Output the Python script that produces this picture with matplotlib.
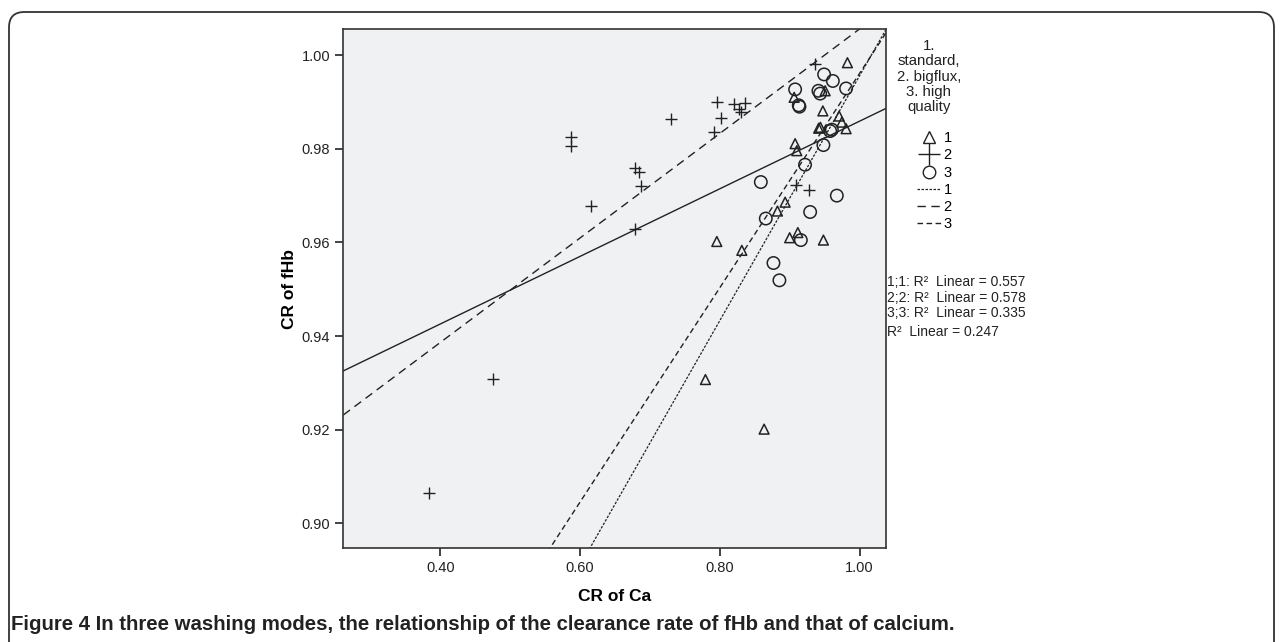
import numpy as np
import matplotlib
matplotlib.use('Agg')
import matplotlib.pyplot as plt
from matplotlib.lines import Line2D
from matplotlib.patches import FancyBboxPatch

plt.rcParams['font.family'] = ['Liberation Sans', 'DejaVu Sans']

# group 1: standard (triangles)
ca_1 = [0.9827, 0.9508, 0.9064, 0.9475, 0.9708, 0.9747, 0.9415, 0.9440, 0.9808,
        0.9078, 0.9102, 0.8935, 0.8825, 0.7957, 0.8315, 0.9000, 0.9117, 0.9483,
        0.7794, 0.8634]
hb_1 = [0.9984, 0.9924, 0.9910, 0.9881, 0.9870, 0.9857, 0.9844, 0.9846, 0.9843,
        0.9811, 0.9796, 0.9686, 0.9667, 0.9602, 0.9583, 0.9610, 0.9621, 0.9605,
        0.9307, 0.9201]

# group 2: bigflux (plus)
ca_2 = [0.587, 0.587, 0.7957, 0.821, 0.836, 0.827, 0.830, 0.8023, 0.7918, 0.730,
        0.679, 0.684, 0.6878, 0.6153, 0.6788, 0.9365, 0.909, 0.928, 0.476, 0.384]
hb_2 = [0.9825, 0.9806, 0.9900, 0.9895, 0.9898, 0.9885, 0.9878, 0.9865, 0.9837, 0.9863,
        0.9759, 0.9751, 0.9720, 0.9678, 0.9629, 0.9981, 0.9722, 0.9712, 0.9308, 0.9065]

# group 3: high quality (circles)
ca_3 = [0.9493, 0.9618, 0.9078, 0.9412, 0.9436, 0.9808, 0.913, 0.914, 0.9604, 0.958,
        0.9483, 0.922, 0.9675, 0.9293, 0.8587, 0.8658, 0.916, 0.8768, 0.8853]
hb_3 = [0.9959, 0.9945, 0.9927, 0.9924, 0.9918, 0.9929, 0.9893, 0.9890, 0.9841, 0.9838,
        0.9808, 0.9766, 0.9700, 0.9665, 0.9729, 0.9651, 0.9605, 0.9556, 0.9519]

# fit lines (intercept, slope)
fit_1 = (0.7341, 0.2615)
fit_2 = (0.8940, 0.1116)
fit_3 = (0.7672, 0.2289)
fit_all = (0.9137, 0.0722)

r2_labels = ['1;1: R\u00b2  Linear = 0.557', '2;2: R\u00b2  Linear = 0.578',
             '3;3: R\u00b2  Linear = 0.335', 'R\u00b2  Linear = 0.247']

fig = plt.figure(figsize=(12.81, 6.42), dpi=100)
ax = fig.add_axes([0.268, 0.1464, 0.4237, 0.8084])
ax.set_facecolor('#f0f1f3')

xlim = (0.261, 1.038)
ylim = (0.8947, 1.0056)
xs = np.array(xlim)

ax.plot(xs, fit_all[0] + fit_all[1] * xs, color='#222222', lw=1.0)
ax.plot(xs, fit_2[0] + fit_2[1] * xs, color='#222222', lw=1.0, dashes=(6, 4))
ax.plot(xs, fit_3[0] + fit_3[1] * xs, color='#222222', lw=1.0, dashes=(4, 2.5))
ax.plot(xs, fit_1[0] + fit_1[1] * xs, color='#222222', lw=0.9, dashes=(2, 1.2))

ax.scatter(ca_1, hb_1, marker='^', s=50, facecolors='none', edgecolors='#222222', linewidths=1.1)
ax.scatter(ca_2, hb_2, marker='+', s=80, color='#222222', linewidths=1.0)
ax.scatter(ca_3, hb_3, marker='o', s=80, facecolors='none', edgecolors='#222222', linewidths=1.1)

ax.set_xlim(xlim)
ax.set_ylim(ylim)
ax.set_xticks([0.4, 0.6, 0.8, 1.0])
ax.set_xticklabels(['0.40', '0.60', '0.80', '1.00'])
ax.set_yticks([0.90, 0.92, 0.94, 0.96, 0.98, 1.00])
ax.set_yticklabels(['0.90', '0.92', '0.94', '0.96', '0.98', '1.00'])
ax.tick_params(direction='out', length=6, width=1.2, labelsize=10.5, colors='#222222')
for s in ax.spines.values():
    s.set_linewidth(1.2)
    s.set_color('#333333')

ax.set_xlabel('CR of Ca', fontsize=12.5, fontweight='bold', labelpad=10)
ax.set_ylabel('CR of fHb', fontsize=12.5, fontweight='bold', labelpad=3)

# legend title drawn separately so the gap below it matches
fig.text(929 / 1281, 1 - 39 / 642, '1.\nstandard,\n2. bigflux,\n3. high\nquality',
         fontsize=10.8, ha='center', va='top', multialignment='center',
         linespacing=1.12, color='#222222')

handles = [
    Line2D([], [], ls='none', marker='^', mfc='none', mec='#222222', ms=8),
    Line2D([], [], ls='none', marker='+', color='#222222', ms=16, mew=1.0),
    Line2D([], [], ls='none', marker='o', mfc='none', mec='#222222', ms=9),
    Line2D([], [], color='#222222', lw=0.9, dashes=(2, 1.2)),
    Line2D([], [], color='#222222', lw=1.0, dashes=(6, 4)),
    Line2D([], [], color='#222222', lw=1.0, dashes=(4, 2.5)),
]
leg = fig.legend(handles, ['1', '2', '3', '1', '2', '3'],
                 loc='upper center', bbox_to_anchor=(0.7295, 1 - 121 / 642), frameon=False,
                 fontsize=10.5, handlelength=1.6, borderpad=0.2,
                 handletextpad=0.2, labelspacing=0.22)

for i, t in enumerate(r2_labels):
    fig.text(0.6925, 1 - (282 + i * 15.6 + (3 if i == 3 else 0)) / 642, t,
             fontsize=10, va='center', ha='left', color='#222222')

frame = FancyBboxPatch((9 / 1281, -20 / 642), 1265 / 1281, 650 / 642,
                       boxstyle='round,pad=0,rounding_size=0.012',
                       transform=fig.transFigure, fill=False, lw=1.3,
                       edgecolor='#333333', mutation_aspect=2.0)
fig.patches.append(frame)

fig.text(11 / 1281, 1 - 624 / 642,
         'Figure 4 In three washing modes, the relationship of the clearance rate of fHb and that of calcium.',
         fontsize=14.7, fontweight='bold', va='center', ha='left', color='#222222')

fig.savefig('out.png', dpi=100)
